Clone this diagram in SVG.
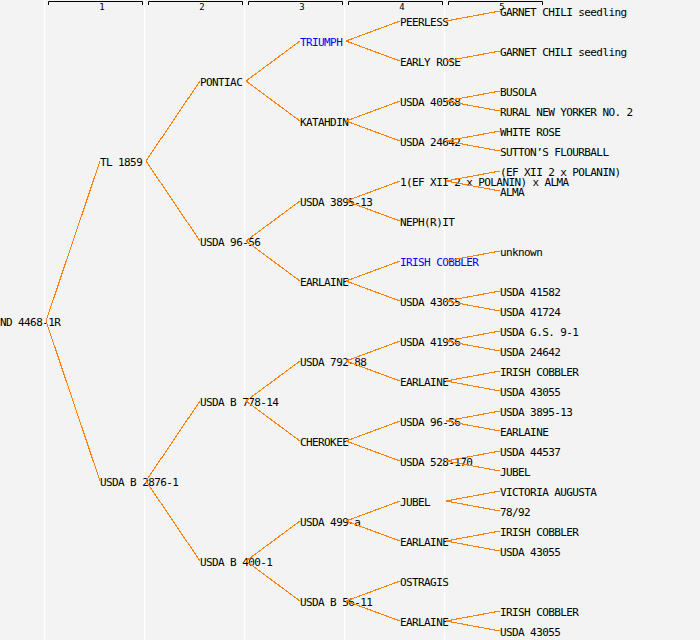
<svg xmlns="http://www.w3.org/2000/svg" width="700" height="640" viewBox="0 0 700 640">
<style>
text{font-family:"DejaVu Sans Mono","Liberation Mono",monospace;font-size:11px;letter-spacing:-0.6px;fill:#000}
.b{fill:#0000ff}
.num{font-size:9px;letter-spacing:0;text-anchor:middle}
.sep{stroke:#ffffff;stroke-width:1.2}
.rul{fill:none;stroke:#000;stroke-width:1}
#connectors line{stroke:#ff8000;stroke-width:1.1;shape-rendering:crispEdges}
</style>
<rect width="700" height="640" fill="#f3f3f3"/>
<g id="grid">
<line class="sep" x1="44.5" y1="0" x2="44.5" y2="640"/>
<line class="sep" x1="144.5" y1="0" x2="144.5" y2="640"/>
<line class="sep" x1="244.5" y1="0" x2="244.5" y2="640"/>
<line class="sep" x1="344.5" y1="0" x2="344.5" y2="640"/>
<line class="sep" x1="444.5" y1="0" x2="444.5" y2="640"/>
</g>
<g id="ruler">
<path class="rul" d="M48.5,5V1.5H142.5V5"/><text class="num" x="102" y="10">1</text>
<path class="rul" d="M148.5,5V1.5H242.5V5"/><text class="num" x="202" y="10">2</text>
<path class="rul" d="M248.5,5V1.5H342.5V5"/><text class="num" x="302" y="10">3</text>
<path class="rul" d="M348.5,5V1.5H442.5V5"/><text class="num" x="402" y="10">4</text>
<path class="rul" d="M448.5,5V1.5H542.5V5"/><text class="num" x="502" y="10">5</text>
</g>
<g id="nodes">
<g id="n0"><text x="0" y="326">ND 4468-1R</text></g>
<g id="n1"><text x="100" y="166">TL 1859</text></g>
<g id="n2"><text x="100" y="486">USDA B 2876-1</text></g>
<g id="n3"><text x="200" y="86">PONTIAC</text></g>
<g id="n4"><text x="200" y="246">USDA 96-56</text></g>
<g id="n5"><text x="200" y="406">USDA B 778-14</text></g>
<g id="n6"><text x="200" y="566">USDA B 400-1</text></g>
<g id="n7"><text class="b" x="300" y="46">TRIUMPH</text></g>
<g id="n8"><text x="300" y="126">KATAHDIN</text></g>
<g id="n9"><text x="300" y="206">USDA 3895-13</text></g>
<g id="n10"><text x="300" y="286">EARLAINE</text></g>
<g id="n11"><text x="300" y="366">USDA 792-88</text></g>
<g id="n12"><text x="300" y="446">CHEROKEE</text></g>
<g id="n13"><text x="300" y="526">USDA 499-a</text></g>
<g id="n14"><text x="300" y="606">USDA B 56-11</text></g>
<g id="n15"><text x="400" y="26">PEERLESS</text></g>
<g id="n16"><text x="400" y="66">EARLY ROSE</text></g>
<g id="n17"><text x="400" y="106">USDA 40568</text></g>
<g id="n18"><text x="400" y="146">USDA 24642</text></g>
<g id="n19"><text x="400" y="186">1(EF XII 2 x POLANIN) x ALMA</text></g>
<g id="n20"><text x="400" y="226">NEPH(R)IT</text></g>
<g id="n21"><text class="b" x="400" y="266">IRISH COBBLER</text></g>
<g id="n22"><text x="400" y="306">USDA 43055</text></g>
<g id="n23"><text x="400" y="346">USDA 41956</text></g>
<g id="n24"><text x="400" y="386">EARLAINE</text></g>
<g id="n25"><text x="400" y="426">USDA 96-56</text></g>
<g id="n26"><text x="400" y="466">USDA 528-170</text></g>
<g id="n27"><text x="400" y="506">JUBEL</text></g>
<g id="n28"><text x="400" y="546">EARLAINE</text></g>
<g id="n29"><text x="400" y="586">OSTRAGIS</text></g>
<g id="n30"><text x="400" y="626">EARLAINE</text></g>
<g id="n31"><text x="500" y="16">GARNET CHILI seedling</text></g>
<g id="n32"><text x="500" y="56">GARNET CHILI seedling</text></g>
<g id="n33"><text x="500" y="96">BUSOLA</text></g>
<g id="n34"><text x="500" y="116">RURAL NEW YORKER NO. 2</text></g>
<g id="n35"><text x="500" y="136">WHITE ROSE</text></g>
<g id="n36"><text x="500" y="156">SUTTON’S FLOURBALL</text></g>
<g id="n37"><text x="500" y="176">(EF XII 2 x POLANIN)</text></g>
<g id="n38"><text x="500" y="196">ALMA</text></g>
<g id="n39"><text x="500" y="256">unknown</text></g>
<g id="n40"><text x="500" y="296">USDA 41582</text></g>
<g id="n41"><text x="500" y="316">USDA 41724</text></g>
<g id="n42"><text x="500" y="336">USDA G.S. 9-1</text></g>
<g id="n43"><text x="500" y="356">USDA 24642</text></g>
<g id="n44"><text x="500" y="376">IRISH COBBLER</text></g>
<g id="n45"><text x="500" y="396">USDA 43055</text></g>
<g id="n46"><text x="500" y="416">USDA 3895-13</text></g>
<g id="n47"><text x="500" y="436">EARLAINE</text></g>
<g id="n48"><text x="500" y="456">USDA 44537</text></g>
<g id="n49"><text x="500" y="476">JUBEL</text></g>
<g id="n50"><text x="500" y="496">VICTORIA AUGUSTA</text></g>
<g id="n51"><text x="500" y="516">78/92</text></g>
<g id="n52"><text x="500" y="536">IRISH COBBLER</text></g>
<g id="n53"><text x="500" y="556">USDA 43055</text></g>
<g id="n54"><text x="500" y="616">IRISH COBBLER</text></g>
<g id="n55"><text x="500" y="636">USDA 43055</text></g>
</g>
<g id="connectors" transform="translate(0,-1)">
<line x1="46" y1="322" x2="100" y2="162"/><line x1="46" y1="322" x2="100" y2="482"/>
<line x1="146" y1="162" x2="200" y2="82"/><line x1="146" y1="162" x2="200" y2="242"/>
<line x1="146" y1="482" x2="200" y2="402"/><line x1="146" y1="482" x2="200" y2="562"/>
<line x1="246" y1="82" x2="300" y2="42"/><line x1="246" y1="82" x2="300" y2="122"/>
<line x1="246" y1="242" x2="300" y2="202"/><line x1="246" y1="242" x2="300" y2="282"/>
<line x1="246" y1="402" x2="300" y2="362"/><line x1="246" y1="402" x2="300" y2="442"/>
<line x1="246" y1="562" x2="300" y2="522"/><line x1="246" y1="562" x2="300" y2="602"/>
<line x1="346" y1="42" x2="400" y2="22"/><line x1="346" y1="42" x2="400" y2="62"/>
<line x1="346" y1="122" x2="400" y2="102"/><line x1="346" y1="122" x2="400" y2="142"/>
<line x1="346" y1="202" x2="400" y2="182"/><line x1="346" y1="202" x2="400" y2="222"/>
<line x1="346" y1="282" x2="400" y2="262"/><line x1="346" y1="282" x2="400" y2="302"/>
<line x1="346" y1="362" x2="400" y2="342"/><line x1="346" y1="362" x2="400" y2="382"/>
<line x1="346" y1="442" x2="400" y2="422"/><line x1="346" y1="442" x2="400" y2="462"/>
<line x1="346" y1="522" x2="400" y2="502"/><line x1="346" y1="522" x2="400" y2="542"/>
<line x1="346" y1="602" x2="400" y2="582"/><line x1="346" y1="602" x2="400" y2="622"/>
<line x1="446" y1="22" x2="500" y2="12"/>
<line x1="446" y1="62" x2="500" y2="52"/>
<line x1="446" y1="102" x2="500" y2="92"/><line x1="446" y1="102" x2="500" y2="112"/>
<line x1="446" y1="142" x2="500" y2="132"/><line x1="446" y1="142" x2="500" y2="152"/>
<line x1="446" y1="182" x2="500" y2="172"/><line x1="446" y1="182" x2="500" y2="192"/>
<line x1="446" y1="262" x2="500" y2="252"/>
<line x1="446" y1="302" x2="500" y2="292"/><line x1="446" y1="302" x2="500" y2="312"/>
<line x1="446" y1="342" x2="500" y2="332"/><line x1="446" y1="342" x2="500" y2="352"/>
<line x1="446" y1="382" x2="500" y2="372"/><line x1="446" y1="382" x2="500" y2="392"/>
<line x1="446" y1="422" x2="500" y2="412"/><line x1="446" y1="422" x2="500" y2="432"/>
<line x1="446" y1="462" x2="500" y2="452"/><line x1="446" y1="462" x2="500" y2="472"/>
<line x1="446" y1="502" x2="500" y2="492"/><line x1="446" y1="502" x2="500" y2="512"/>
<line x1="446" y1="542" x2="500" y2="532"/><line x1="446" y1="542" x2="500" y2="552"/>
<line x1="446" y1="622" x2="500" y2="612"/><line x1="446" y1="622" x2="500" y2="632"/>
</g>
</svg>
